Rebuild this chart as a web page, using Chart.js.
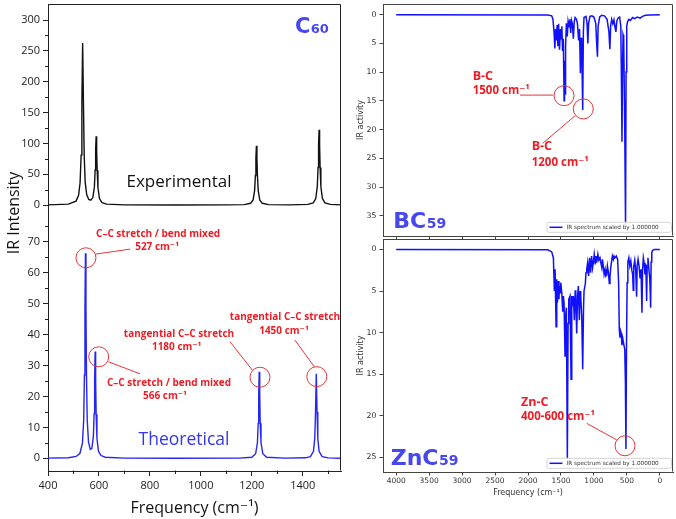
<!DOCTYPE html>
<html>
<head>
<meta charset="utf-8">
<script src="https://cdn.jsdelivr.net/npm/chart.js@4.4.0/dist/chart.umd.min.js"></script>
<style>
  html, body { margin: 0; padding: 0; background: #fff; }
  #wrap { position: relative; width: 676px; height: 519px; overflow: hidden; }
  canvas { position: absolute; }
</style>
</head>
<body>
<div id="wrap">
  <canvas id="c60" width="345" height="519" style="left:0;top:0;width:345px;height:519px"></canvas>
  <canvas id="bc59" width="331" height="241" style="left:345px;top:0;width:331px;height:241px"></canvas>
  <canvas id="znc59" width="331" height="282" style="left:345px;top:237px;width:331px;height:282px"></canvas>
</div>
<script>
// C60 experimental spectrum (black)
const expFreq = [400,480,510,520,526,530,533,536,539,542,546,552,560,568,576,582,585,587,589,591,593,596,602,612,630,700,900,1100,1170,1195,1205,1211,1214,1216,1218,1220,1222,1225,1231,1241,1266,1350,1420,1441,1451,1457,1460,1462,1464,1466,1468,1471,1477,1487,1508,1550];
const expInt = [0.3,1.5,6.3,15.8,36.5,81,168,262.6,168.5,81.4,37,16.7,9.1,7.9,12.1,29,56.7,89.6,111.5,89.4,56.4,28.3,10.4,3.9,1.5,0.3,0.1,0.2,0.7,2.8,8.3,23.6,48,76.8,96,76.8,48,23.6,8.3,2.8,0.7,0.25,1.0,3.6,10.6,30,61,97.6,122,97.6,61,30,10.6,3.6,1.0,0.26];

// C60 theoretical spectrum (blue)
const theoFreq = [400,480,510,525,535,540,543,545,547,549,551,554,559,566,572,578,581,583,585,587,589,592,598,608,625,700,900,1150,1200,1215,1222,1225,1227,1229,1231,1233,1236,1243,1258,1330,1410,1430,1442,1447,1450,1453,1456,1459,1464,1476,1500,1550];
const theoInt = [0.05,0.2,0.6,1.55,4.8,12.2,26.9,48.5,66.25,48.6,27,12.4,5.2,2.9,3.2,6.9,14.4,25.4,34.5,25.3,14.2,6.55,2.3,0.9,0.35,0.05,0.02,0.05,0.36,1.47,5.1,11.3,20.5,28,20.5,11.3,5.1,1.47,0.36,0.05,0.16,0.55,2.25,6.35,15,27.3,15,6.35,2.25,0.55,0.13,0.03];

// BC59 IR spectrum
const bcFreq = [4000,1700,1640,1622,1605,1592,1582,1570,1558,1546,1536,1522,1508,1496,1486,1476,1464,1452,1446,1438,1430,1418,1404,1392,1378,1366,1352,1340,1326,1312,1298,1285,1265,1250,1232,1218,1205,1195,1185,1170,1160,1150,1120,1104,1092,1080,1060,1030,1000,972,956,946,936,912,880,840,800,772,758,746,730,712,696,680,666,654,636,610,592,582,574,566,558,548,532,520,512,502,488,470,446,414,380,342,300,262,220,150,0];
const bcAct = [0,0.05,0.2,0.8,3.0,5.9,2.5,4.5,1.8,5.5,1.6,6.1,2.5,4.2,2.0,6.3,4.2,15.0,8.0,13.8,5.5,1.5,3.8,1.2,2.2,0.8,3.2,1.0,1.6,4.2,1.2,0.5,0.8,1.5,4.5,2.5,10.2,4.0,5.0,16.6,3.0,0.5,0.3,1.5,5.0,1.5,0.3,0.2,0.4,1.5,5.5,7.3,2.0,0.4,0.1,0.2,0.8,3.0,6.0,2.0,0.8,1.6,0.9,2.2,3.0,1.2,0.6,0.4,2.0,12.0,22.1,10.0,3.5,4.0,20.0,36.7,10.0,2.0,1.2,0.8,1.0,0.5,0.7,0.4,0.6,0.3,0.1,0.05,0];

// ZnC59 IR spectrum
const znFreq = [4000,1700,1640,1615,1600,1589,1574,1564,1554,1539,1530,1524,1512,1503,1488,1473,1463,1453,1438,1428,1418,1403,1392,1382,1362,1347,1336,1327,1312,1297,1284,1276,1268,1261,1248,1236,1221,1210,1200,1185,1170,1158,1150,1130,1120,1109,1095,1080,1065,1050,1035,1020,1009,995,980,968,958,940,925,908,895,880,870,858,845,830,818,806,795,780,766,756,742,720,705,695,680,660,640,625,615,605,595,585,575,560,545,532,522,514,506,496,485,470,455,440,425,412,403,395,380,366,352,344,330,315,300,285,271,262,250,238,225,212,200,192,180,166,152,139,132,122,110,80,0];
const znAct = [0,0.05,0.3,1.0,5.0,2.4,9.3,3.6,6.4,3.8,6.0,4.4,5.2,4.0,5.2,7.5,5.6,6.5,12.8,8.0,7.0,25.2,8.9,6.0,5.6,15.6,5.6,6.5,5.6,8.5,5.0,4.9,8.0,10.1,5.5,4.4,8.5,5.0,5.6,8.0,14.4,7.2,5.0,4.1,2.8,2.4,1.6,3.2,1.0,2.8,0.8,2.2,1.6,0.6,1.8,0.8,1.6,0.6,1.3,1.0,1.6,2.2,1.2,2.0,3.0,2.4,3.2,3.1,2.0,2.8,4.1,3.3,2.0,0.8,1.2,0.8,1.0,0.8,1.2,4.0,9.6,10.6,9.8,10.1,11.5,10.8,11.5,12.0,16.0,24.0,12.0,4.0,1.5,1.0,2.0,1.4,2.5,3.0,4.9,2.0,1.3,2.5,5.7,2.0,1.2,2.0,3.5,2.4,7.6,2.5,1.0,1.6,3.0,1.8,6.2,2.0,1.0,2.4,3.5,7.0,1.5,0.4,0.1,0.02,0];

// tick positions
const irTicks = [4000,3500,3000,2500,2000,1500,1000,500,0];
const minorX = [500,700,900,1100,1300,1500];
const minorTop = [25,75,125,175,225,275];
const minorBot = [5,15,25,35,45,55,65,75];

const RED = '#ec1c24';
const CIRCLE = '#e2363a';
const LABEL_BLUE = '#4747ee';
const NOTE_FONT = 'bold 10px "Open Sans", "DejaVu Sans"';
const BIG1 = 'bold 22px "DejaVu Sans"';
const BIG2 = 'bold 14px "DejaVu Sans"';

const c60Notes = [
  {t: 'formula', ax: 'yTop', x: 1369, y: 279.7, s1: 'C', s2: '60', f1: 'bold 21px "DejaVu Sans"', f2: 'bold 13px "DejaVu Sans"'},
  {t: 'text', ax: 'yTop', x: 914, y: 37.8, s: 'Experimental', font: '17px "Open Sans"', c: '#111'},
  {t: 'text', ax: 'yBot', x: 934, y: 5.9, s: 'Theoretical', font: '17.5px "Open Sans"', c: '#3535ee'},
  {t: 'circle', ax: 'yBot', x: 549, y: 64.8},
  {t: 'line', ax: 'yBot', x: 588, y: 66.0, x2: 722, y2: 67.6},
  {t: 'text', ax: 'yBot', x: 832, y: 72.5, s: 'C\u2013C stretch / bend mixed'},
  {t: 'text', ax: 'yBot', x: 828, y: 68.2, s: '527 cm\u207B\u00B9'},
  {t: 'circle', ax: 'yBot', x: 599, y: 32.8},
  {t: 'line', ax: 'yBot', x: 637, y: 31.2, x2: 761, y2: 27.3},
  {t: 'text', ax: 'yBot', x: 875, y: 24.2, s: 'C\u2013C stretch / bend mixed'},
  {t: 'text', ax: 'yBot', x: 859, y: 20.2, s: '566 cm\u207B\u00B9'},
  {t: 'circle', ax: 'yBot', x: 1232, y: 26.2},
  {t: 'line', ax: 'yBot', x: 1202, y: 28.5, x2: 1114, y2: 37.7},
  {t: 'text', ax: 'yBot', x: 914, y: 40.1, s: 'tangential C\u2013C stretch'},
  {t: 'text', ax: 'yBot', x: 905, y: 35.9, s: '1180 cm\u207B\u00B9'},
  {t: 'circle', ax: 'yBot', x: 1455, y: 26.4},
  {t: 'line', ax: 'yBot', x: 1445, y: 29.6, x2: 1369, y2: 38.2},
  {t: 'text', ax: 'yBot', x: 1330, y: 45.6, s: 'tangential C\u2013C stretch'},
  {t: 'text', ax: 'yBot', x: 1326, y: 41.2, s: '1450 cm\u207B\u00B9'}
];

const bcNotes = [
  {t: 'formula', ax: 'y', x: 4044, y: 37.2, s1: 'BC', s2: '59', f1: BIG1, f2: BIG2},
  {t: 'text', ax: 'y', x: 2839, y: 10.8, s: 'B-C', font: 'bold 12.5px "Open Sans"', align: 'left'},
  {t: 'text', ax: 'y', x: 2839, y: 13.3, s: '1500 cm\u207B\u00B9', font: 'bold 11.5px "Open Sans", "DejaVu Sans"', align: 'left'},
  {t: 'line', ax: 'y', x: 2121, y: 14.0, x2: 1616, y2: 14.0},
  {t: 'circle', ax: 'y', x: 1453, y: 14.1},
  {t: 'circle', ax: 'y', x: 1161, y: 16.4},
  {t: 'line', ax: 'y', x: 1286, y: 17.6, x2: 1777, y2: 22.4},
  {t: 'text', ax: 'y', x: 1944, y: 23.0, s: 'B-C', font: 'bold 12.5px "Open Sans"', align: 'left'},
  {t: 'text', ax: 'y', x: 1944, y: 25.7, s: '1200 cm\u207B\u00B9', font: 'bold 11.5px "Open Sans", "DejaVu Sans"', align: 'left'}
];

const znNotes = [
  {t: 'formula', ax: 'y', x: 4083, y: 25.9, s1: 'ZnC', s2: '59', f1: BIG1, f2: BIG2},
  {t: 'text', ax: 'y', x: 2106, y: 18.4, s: 'Zn-C', font: 'bold 12.5px "Open Sans"', align: 'left'},
  {t: 'text', ax: 'y', x: 2106, y: 20.1, s: '400-600 cm\u207B\u00B9', font: 'bold 11.5px "Open Sans", "DejaVu Sans"', align: 'left'},
  {t: 'line', ax: 'y', x: 1109, y: 20.9, x2: 654, y2: 22.9},
  {t: 'circle', ax: 'y', x: 528, y: 23.6}
];

const pts = (xs, ys) => xs.map((x, i) => ({x: x, y: ys[i]}));
const plain = v => String(Math.round(v) === 0 ? 0 : Math.round(v));

// draws frame, minor ticks, annotations and legend box
const overlay = {
  id: 'overlay',
  afterDraw(chart, args, opts) {
    const ctx = chart.ctx;
    const a = chart.chartArea;
    const xs = chart.scales.x;
    ctx.save();

    // top and right spines
    ctx.strokeStyle = opts.frame || '#333';
    ctx.lineWidth = 1;
    const L = Math.round(a.left) + 0.5, R = Math.round(a.right) - 0.5;
    const T = Math.round(a.top) + 0.5, B = Math.round(a.bottom) - 0.5;
    ctx.beginPath();
    ctx.moveTo(L, T); ctx.lineTo(R, T); ctx.lineTo(R, B);
    ctx.stroke();

    // minor ticks
    (opts.minor || []).forEach(m => {
      const s = chart.scales[m.axis];
      ctx.beginPath();
      m.values.forEach(v => {
        const p = Math.round(s.getPixelForValue(v)) + 0.5;
        if (m.axis === 'x') { ctx.moveTo(p, B); ctx.lineTo(p, B + 3.5); }
        else { ctx.moveTo(L - 3.5, p); ctx.lineTo(L, p); }
      });
      ctx.stroke();
    });

    // annotations
    (opts.notes || []).forEach(n => {
      const ys = chart.scales[n.ax];
      const px = xs.getPixelForValue(n.x), py = ys.getPixelForValue(n.y);
      if (n.t === 'circle') {
        ctx.strokeStyle = CIRCLE; ctx.lineWidth = 1;
        ctx.beginPath(); ctx.arc(px, py, 10, 0, Math.PI * 2); ctx.stroke();
      } else if (n.t === 'line') {
        ctx.strokeStyle = CIRCLE; ctx.lineWidth = 1;
        ctx.beginPath(); ctx.moveTo(px, py);
        ctx.lineTo(xs.getPixelForValue(n.x2), ys.getPixelForValue(n.y2)); ctx.stroke();
      } else if (n.t === 'text') {
        ctx.font = n.font || NOTE_FONT;
        ctx.fillStyle = n.c || RED;
        ctx.textAlign = n.align || 'center';
        ctx.textBaseline = 'middle';
        ctx.fillText(n.s, px, py);
      } else if (n.t === 'formula') {
        ctx.fillStyle = LABEL_BLUE;
        ctx.textAlign = 'left';
        ctx.textBaseline = 'alphabetic';
        ctx.font = n.f1;
        ctx.fillText(n.s1, px, py);
        const w = ctx.measureText(n.s1).width;
        ctx.font = n.f2;
        ctx.fillText(n.s2, px + w + 0.5, py);
      }
    });

    // vertical title spanning both left panels
    if (opts.vtitle) {
      ctx.save();
      ctx.translate(opts.vtitle.x, opts.vtitle.y);
      ctx.rotate(-Math.PI / 2);
      ctx.font = '16px "Open Sans"';
      ctx.fillStyle = '#111';
      ctx.textAlign = 'center';
      ctx.textBaseline = 'middle';
      ctx.fillText(opts.vtitle.text, 0, 0);
      ctx.restore();
    }

    // matplotlib style legend in the lower right
    if (opts.legend) {
      const w = 124.5, h = 10;
      const x0 = a.right - 1.5 - w, y0 = a.bottom - 3.7 - h;
      ctx.fillStyle = 'rgba(255,255,255,0.85)';
      ctx.strokeStyle = '#d4d4d4';
      ctx.lineWidth = 1;
      ctx.beginPath();
      ctx.roundRect(x0, y0, w, h, 2);
      ctx.fill(); ctx.stroke();
      ctx.strokeStyle = '#1010ff'; ctx.lineWidth = 1.5;
      ctx.beginPath(); ctx.moveTo(x0 + 2.5, y0 + h / 2); ctx.lineTo(x0 + 15.5, y0 + h / 2); ctx.stroke();
      ctx.fillStyle = '#333';
      ctx.font = '5.7px "DejaVu Sans"';
      ctx.textAlign = 'left';
      ctx.textBaseline = 'middle';
      ctx.fillText(opts.legend, x0 + 19.5, y0 + h / 2 + 0.3);
    }
    ctx.restore();
  }
};

const leftTick = {color: '#222', font: {family: '"Open Sans"', size: 11}, padding: 3,
                  includeBounds: false, maxTicksLimit: 20, callback: plain};
const leftGrid = {drawOnChartArea: false, tickLength: 5, color: '#222'};

new Chart(document.getElementById('c60'), {
  type: 'line',
  data: {
    datasets: [
      {data: pts(expFreq, expInt), yAxisID: 'yTop', borderColor: '#111', borderWidth: 1.4, pointRadius: 0, tension: 0},
      {data: pts(theoFreq, theoInt), yAxisID: 'yBot', borderColor: '#2626f2', borderWidth: 1.4, pointRadius: 0, tension: 0}
    ]
  },
  options: {
    responsive: false,
    animation: false,
    events: [],
    layout: {padding: {left: 0, right: 4, top: 4, bottom: 0}},
    plugins: {
      legend: {display: false},
      tooltip: {enabled: false},
      overlay: {
        frame: '#222',
        notes: c60Notes,
        minor: [{axis: 'x', values: minorX}, {axis: 'yTop', values: minorTop}, {axis: 'yBot', values: minorBot}],
        vtitle: {text: 'IR Intensity', x: 14, y: 213}
      }
    },
    scales: {
      x: {
        type: 'linear', min: 400, max: 1550,
        ticks: Object.assign({stepSize: 200, maxRotation: 0}, leftTick),
        grid: leftGrid,
        border: {color: '#222'},
        title: {display: true, text: 'Frequency (cm\u207B\u00B9)', color: '#111',
                font: {family: '"Open Sans", "DejaVu Sans"', size: 16}, padding: {top: 0, bottom: 1.4}},
        afterFit: s => { s.height = 48; s.paddingLeft = 0; s.paddingRight = 0; }
      },
      yBot: {
        type: 'linear', position: 'left', stack: 'c60', stackWeight: 255,
        min: -4.1, max: 78.3,
        ticks: Object.assign({stepSize: 10}, leftTick),
        grid: leftGrid,
        border: {color: '#222'},
        afterFit: s => { s.width = 48; s.paddingTop = 0; s.paddingBottom = 0; }
      },
      yTop: {
        type: 'linear', position: 'left', stack: 'c60', stackWeight: 212,
        min: -17.8, max: 326,
        ticks: Object.assign({stepSize: 50}, leftTick),
        grid: leftGrid,
        border: {color: '#222'},
        afterFit: s => { s.width = 48; s.paddingTop = 0; s.paddingBottom = 0; }
      }
    }
  },
  plugins: [overlay]
});

function irChart(id, freq, act, yMin, yMax, withX, notes) {
  return new Chart(document.getElementById(id), {
    type: 'line',
    data: {
      datasets: [{data: pts(freq, act), borderColor: '#1010ff', borderWidth: 1.5, pointRadius: 0, tension: 0}]
    },
    options: {
      responsive: false,
      animation: false,
      events: [],
      layout: {padding: {left: 11, right: 3, top: withX ? 2 : 4, bottom: 0}},
      plugins: {
        legend: {display: false},
        tooltip: {enabled: false},
        overlay: {frame: '#444', notes: notes, legend: 'IR spectrum scaled by 1.000000'}
      },
      scales: {
        x: {
          type: 'linear', reverse: true, min: -200, max: 4200,
          afterBuildTicks: s => { s.ticks = irTicks.map(v => ({value: v})); },
          ticks: {display: withX, callback: plain, maxRotation: 0, autoSkip: false, padding: 1,
                  color: '#333', font: {family: '"DejaVu Sans"', size: 7.5}},
          grid: {drawOnChartArea: false, tickLength: 3.5, color: '#444'},
          border: {color: '#444'},
          title: {display: withX, text: 'Frequency (cm\u207B\u00B9)', color: '#333',
                  font: {family: '"DejaVu Sans"', size: 8}, padding: {top: 0, bottom: 21}},
          afterFit: s => { s.height = withX ? 47 : 5; s.paddingLeft = 0; s.paddingRight = 0; }
        },
        y: {
          type: 'linear', reverse: true, min: yMin, max: yMax,
          ticks: {stepSize: 5, includeBounds: false, maxTicksLimit: 20, callback: plain, padding: 3, color: '#333',
                  font: {family: '"DejaVu Sans"', size: 7.8}},
          grid: {drawOnChartArea: false, tickLength: 3.5, color: '#444'},
          border: {color: '#444'},
          title: {display: true, text: 'IR activity', color: '#333',
                  font: {family: '"DejaVu Sans"', size: 8}, padding: 0},
          afterFit: s => { s.width = 27; s.paddingTop = 0; s.paddingBottom = 0; }
        }
      }
    },
    plugins: [overlay]
  });
}

irChart('bc59', bcFreq, bcAct, -1.86, 38.53, false, bcNotes);
irChart('znc59', znFreq, znAct, -1.25, 26.75, true, znNotes);
</script>
</body>
</html>
